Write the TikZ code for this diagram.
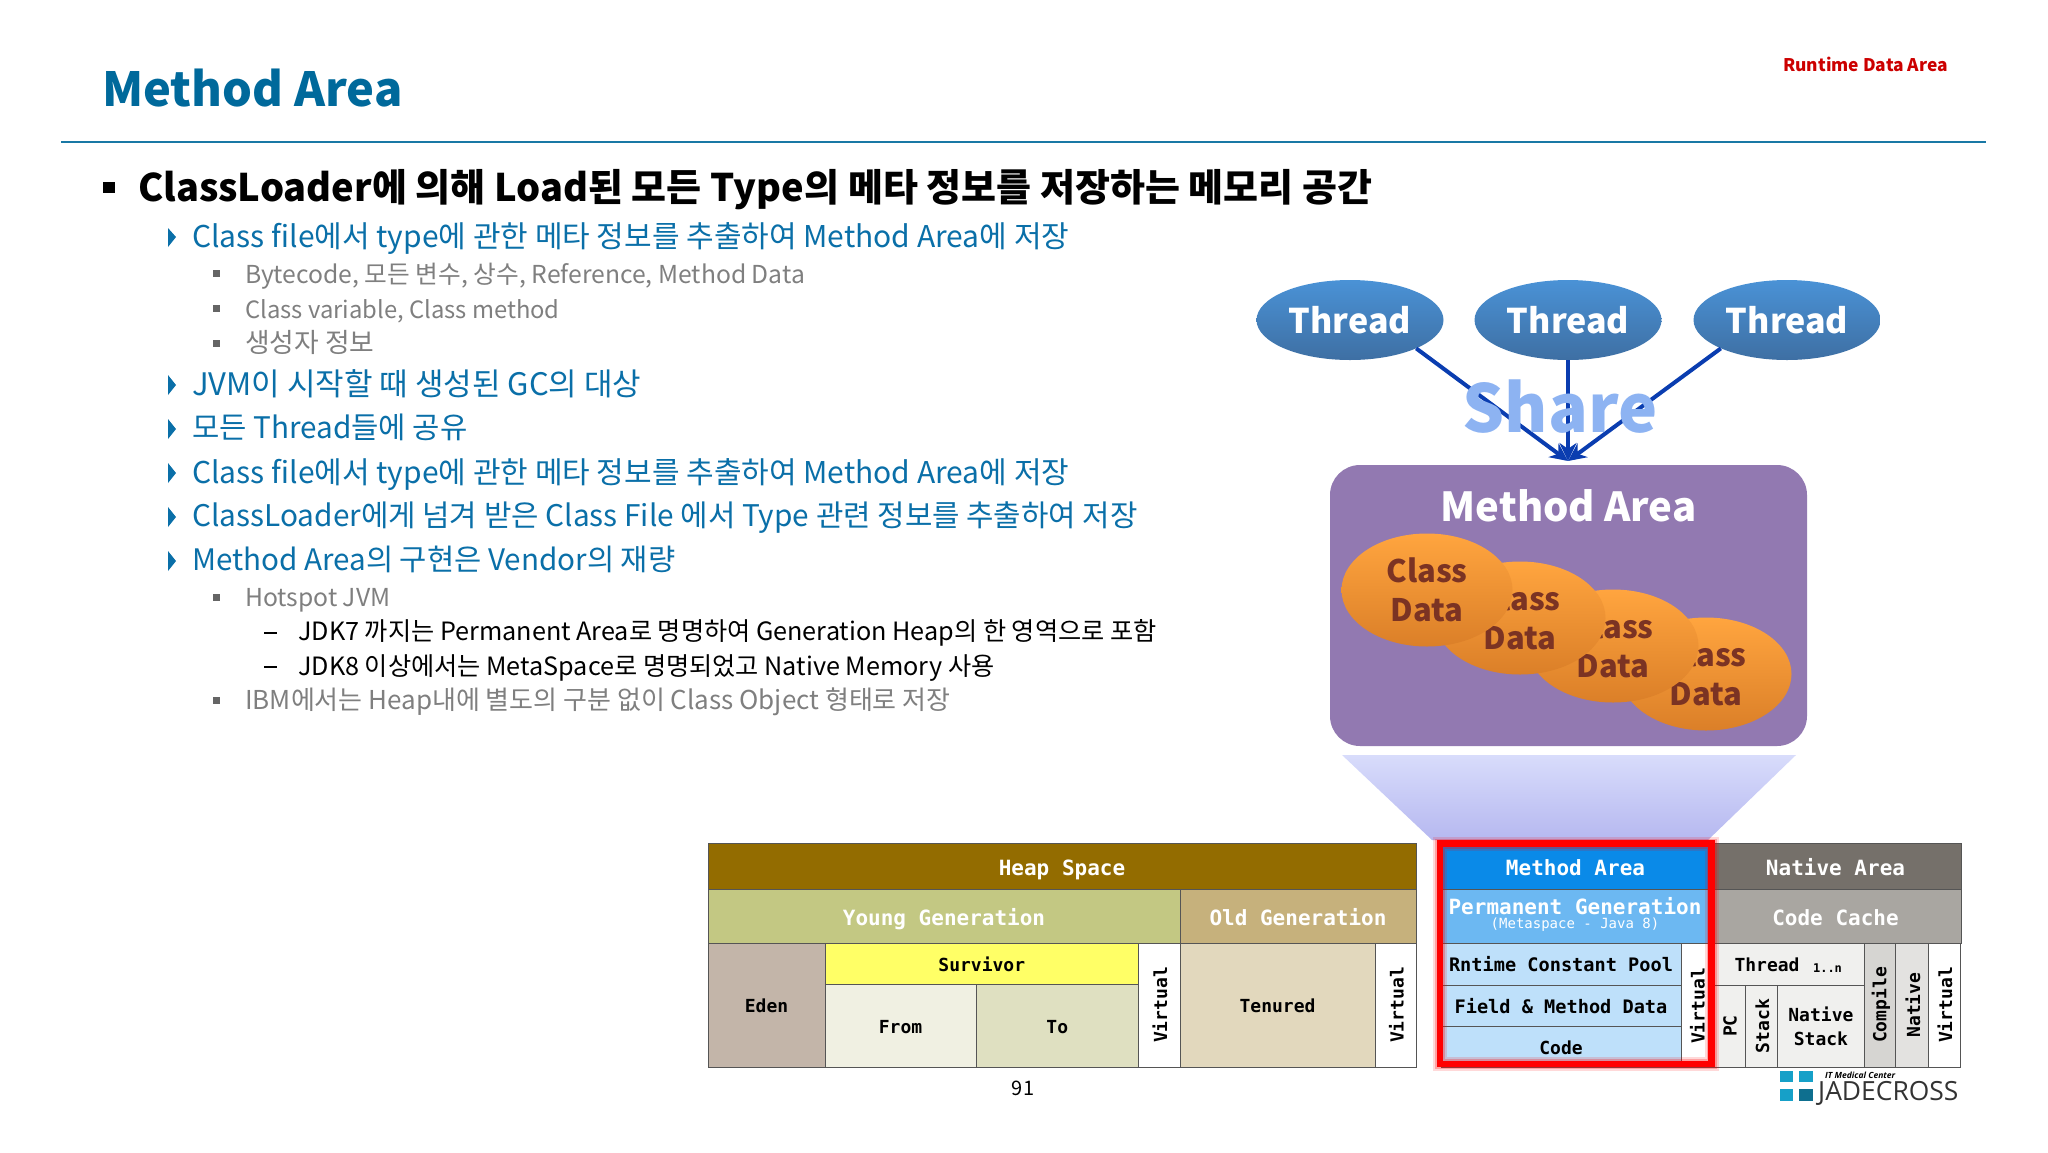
\documentclass[tikz,border=0pt]{standalone}
\usepackage{fontspec}
\usepackage{xcolor}
\usetikzlibrary{arrows.meta,shapes.geometric}
\setmainfont{Noto Sans CJK KR}
\setmonofont{DejaVu Sans Mono}
\newfontfamily\logofont{Open Sans}
\newcommand{\pxfont}[1]{\fontsize{#1}{#1}\selectfont}
\definecolor{titleblue}{HTML}{00699B}
\definecolor{linkblue}{HTML}{0A6FA8}
\definecolor{softgray}{HTML}{7F7F7F}
\definecolor{threadtop}{HTML}{4A92D6}
\definecolor{threadbottom}{HTML}{3E6FA3}
\definecolor{classtop}{HTML}{FFA53F}
\definecolor{classbottom}{HTML}{DB7F28}
\definecolor{classtext}{HTML}{7B3323}
\definecolor{sharecolor}{HTML}{0A3DB0}
\definecolor{sharetext}{HTML}{8DB3F2}
\definecolor{areapurple}{HTML}{9279B1}
\definecolor{funneltop}{HTML}{D8DCFB}
\definecolor{funnelbottom}{HTML}{B6B8F0}
\definecolor{cellline}{HTML}{555555}
\definecolor{heapbrown}{HTML}{936C00}
\definecolor{younggreen}{HTML}{C3C883}
\definecolor{oldtan}{HTML}{C6B17C}
\definecolor{edengray}{HTML}{C3B5A9}
\definecolor{survivoryellow}{HTML}{FFFF66}
\definecolor{fromcream}{HTML}{F0F0E2}
\definecolor{tosage}{HTML}{DFE0C1}
\definecolor{tenuredtan}{HTML}{E2D8BD}
\definecolor{methodblue}{HTML}{0A8AE8}
\definecolor{permblue}{HTML}{6CB8F2}
\definecolor{rowblue}{HTML}{BEE0FA}
\definecolor{nativegray}{HTML}{75706A}
\definecolor{cachegray}{HTML}{A9A6A1}
\definecolor{threadpale}{HTML}{F0F0EE}
\definecolor{compilegray}{HTML}{D6D5D2}
\definecolor{nativepale}{HTML}{E3E2E0}
\definecolor{logoteal}{HTML}{16A0C8}
\definecolor{logodark}{HTML}{0E6F8F}
\tikzset{
  textline/.style={anchor=base west,inner sep=0pt},
  mainline/.style={textline,font=\bfseries\pxfont{38},text=black},
  subline/.style={textline,font=\pxfont{30},text=linkblue},
  detailline/.style={textline,font=\pxfont{26},text=softgray},
  noteline/.style={textline,font=\pxfont{25.2},text=black},
  threadnode/.style={ellipse,inner sep=0pt,minimum width=187pt,minimum height=80pt,top color=threadtop,bottom color=threadbottom,text=white,font=\bfseries\pxfont{34}},
  classnode/.style={ellipse,inner sep=0pt,minimum width=171pt,minimum height=113pt,top color=classtop,bottom color=classbottom,text=classtext,font=\bfseries\fontsize{31}{39}\selectfont,align=center},
  sharearrow/.style={draw=sharecolor,line width=4pt,-{Stealth[length=18pt,width=17pt]}},
  boxcell/.style={rectangle,draw=cellline,line width=1pt,inner sep=0pt,text=black,font=\ttfamily\bfseries\pxfont{18}},
  cell/.style={boxcell,text height=15.5pt,text depth=0pt},
  headcell/.style={boxcell,text height=18pt,text depth=0pt,text=white,font=\ttfamily\bfseries\pxfont{21}},
  uplabel/.style={inner sep=0pt,rotate=90,text=black,font=\ttfamily\bfseries\pxfont{18}}
}
\begin{document}
\begin{tikzpicture}[x=1pt,y=-1pt]
\useasboundingbox (0,0) rectangle (2048,1152);
\node [textline,font=\bfseries\pxfont{47},text=titleblue] (title) at (102,106) {Method Area};
\node [textline,font=\bfseries\pxfont{17.4},text=red!80!black] (section) at (1783,71) {Runtime Data Area};
\draw [titleblue!90!white,line width=1.6pt] (61,142) -- (1986,142);
\fill [black] (103,182) rectangle (115,193);
\node [mainline] (intro) at (138,201) {ClassLoader에 의해 Load된 모든 Type의 메타 정보를 저장하는 메모리 공간};
\fill [linkblue] (168,228) -- (176,237) -- (168,247) -- cycle;
\node [subline] (sub1) at (192,247) {Class file에서 type에 관한 메타 정보를 추출하여 Method Area에 저장};
\fill [softgray!80!black] (213,270) rectangle (220,277);
\node [detailline,font=\pxfont{24.7}] (det1) at (245,283) {Bytecode, 모든 변수, 상수, Reference, Method Data};
\fill [softgray!80!black] (213,305) rectangle (220,312);
\node [detailline,font=\pxfont{23.8}] (det2) at (245,318) {Class variable, Class method};
\fill [softgray!80!black] (213,340) rectangle (220,347);
\node [detailline,font=\pxfont{26.8}] (det3) at (245,352) {생성자 정보};
\fill [linkblue] (168,375) -- (176,385) -- (168,395) -- cycle;
\node [subline,font=\pxfont{31}] (sub2) at (192,395) {JVM이 시작할 때 생성된 GC의 대상};
\fill [linkblue] (168,419) -- (176,429) -- (168,439) -- cycle;
\node [subline,font=\pxfont{29.7}] (sub3) at (192,438) {모든 Thread들에 공유};
\fill [linkblue] (168,463) -- (176,473) -- (168,483) -- cycle;
\node [subline] (sub4) at (192,483) {Class file에서 type에 관한 메타 정보를 추출하여 Method Area에 저장};
\fill [linkblue] (168,507) -- (176,517) -- (168,527) -- cycle;
\node [subline,font=\pxfont{29.8}] (sub5) at (192,526) {ClassLoader에게 넘겨 받은 Class File 에서 Type 관련 정보를 추출하여 저장};
\fill [linkblue] (168,551) -- (176,561) -- (168,571) -- cycle;
\node [subline,font=\pxfont{29.6}] (sub6) at (192,570) {Method Area의 구현은 Vendor의 재량};
\fill [softgray!80!black] (213,594) rectangle (220,601);
\node [detailline,font=\pxfont{24.7}] (det4) at (245,606) {Hotspot JVM};
\fill [black] (264,632) rectangle (277,634);
\node [noteline] (note1) at (298,640) {JDK7 까지는 Permanent Area로 명명하여 Generation Heap의 한 영역으로 포함};
\fill [black] (264,666) rectangle (277,668);
\node [noteline] (note2) at (298,675) {JDK8 이상에서는 MetaSpace로 명명되었고 Native Memory 사용};
\fill [softgray!80!black] (213,697) rectangle (220,704);
\node [detailline] (det5) at (245,709) {IBM에서는 Heap내에 별도의 구분 없이 Class Object 형태로 저장};
\node [threadnode] (thread1) at (1350,320) {Thread};
\node [threadnode] (thread2) at (1568,320) {Thread};
\node [threadnode] (thread3) at (1787,320) {Thread};
\coordinate (sharetip) at (1568,461);
\draw [sharearrow] (thread1.south east) -- (sharetip);
\draw [sharearrow] (thread2.south) -- (sharetip);
\draw [sharearrow] (thread3.south west) -- (sharetip);
\node [inner sep=0pt,anchor=base,text=sharetext,font=\bfseries\pxfont{66}] (share) at (1560,432) {Share};
\node [rectangle,rounded corners=30pt,inner sep=0pt,minimum width=477pt,minimum height=281pt,fill=areapurple] (marea) at (1568.5,605.5) {};
\node [inner sep=0pt,text=white,font=\bfseries\pxfont{40}] (marealabel) at (1568.5,506) {Method Area};
\node [classnode] (class4) at (1706,674) {Class\\Data};
\node [classnode] (class3) at (1613,646) {Class\\Data};
\node [classnode] (class2) at (1520,618) {Class\\Data};
\node [classnode] (class1) at (1427,590) {Class\\Data};
\shade [top color=funneltop,bottom color=funnelbottom] (1342,755) -- (1796,755) -- (1708,840) -- (1432,840) -- cycle;
\node [headcell,fill=heapbrown,minimum width=708pt,minimum height=46pt] (heap) at (1062,866) {Heap Space};
\node [headcell,fill=younggreen,minimum width=472pt,minimum height=54pt] (young) at (944,916) {Young Generation};
\node [headcell,fill=oldtan,minimum width=236pt,minimum height=54pt] (old) at (1298,916) {Old Generation};
\node [cell,fill=edengray,minimum width=117pt,minimum height=124pt] (eden) at (766.5,1005) {Eden};
\node [cell,fill=survivoryellow,minimum width=313.5pt,minimum height=41pt] (survivor) at (981.75,963.5) {Survivor};
\node [cell,fill=fromcream,minimum width=151pt,minimum height=83pt] (from) at (900.5,1025.5) {From};
\node [cell,fill=tosage,minimum width=162.5pt,minimum height=83pt] (to) at (1057.25,1025.5) {To};
\node [boxcell,fill=white,minimum width=41.5pt,minimum height=124pt] (virtual1) at (1159.25,1005) {};
\node [uplabel] (virtual1label) at (1160,1005) {Virtual};
\node [cell,fill=tenuredtan,minimum width=195pt,minimum height=124pt] (tenured) at (1277.5,1005) {Tenured};
\node [boxcell,fill=white,minimum width=41pt,minimum height=124pt] (virtual2) at (1395.5,1005) {};
\node [uplabel] (virtual2label) at (1396.5,1005) {Virtual};
\node [headcell,fill=methodblue,minimum width=269pt,minimum height=46pt] (method) at (1575.5,866) {Method Area};
\node [boxcell,fill=permblue,minimum width=269pt,minimum height=54pt] (perm) at (1575.5,916) {};
\node [inner sep=0pt,text=white,font=\ttfamily\bfseries\pxfont{21}] (permlabel) at (1575,906) {Permanent Generation};
\node [inner sep=0pt,text=white,font=\ttfamily\pxfont{14}] (metalabel) at (1575,925) {(Metaspace - Java 8)};
\node [cell,fill=rowblue,minimum width=240pt,minimum height=42pt,font=\ttfamily\bfseries\pxfont{18.6}] (rpool) at (1561,964) {Rntime Constant Pool};
\node [cell,fill=rowblue,minimum width=240pt,minimum height=41pt,font=\ttfamily\bfseries\pxfont{18.6}] (field) at (1561,1005.5) {Field \& Method Data};
\node [cell,fill=rowblue,minimum width=240pt,minimum height=41pt] (code) at (1561,1046.5) {Code};
\node [boxcell,fill=white,minimum width=29pt,minimum height=124pt] (virtual3) at (1695.5,1005) {};
\node [uplabel] (virtual3label) at (1697.5,1006) {Virtual};
\node [headcell,fill=nativegray,minimum width=251pt,minimum height=46pt] (native) at (1835.5,866) {Native Area};
\node [headcell,fill=cachegray,minimum width=251pt,minimum height=54pt] (cache) at (1835.5,916) {Code Cache};
\node [boxcell,fill=threadpale,minimum width=154pt,minimum height=42pt] (threadcell) at (1787,964) {};
\node [inner sep=0pt,text=black,font=\ttfamily\bfseries\pxfont{18}] (threadlabel) at (1767,965) {Thread};
\node [inner sep=0pt,text=black,font=\ttfamily\bfseries\pxfont{12}] (threadcount) at (1827.5,968) {1..n};
\node [boxcell,fill=threadpale,minimum width=35.6pt,minimum height=82pt] (pc) at (1727.8,1026) {};
\node [uplabel] (pclabel) at (1730,1026) {PC};
\node [boxcell,fill=threadpale,minimum width=32pt,minimum height=82pt] (stack) at (1761.6,1026) {};
\node [uplabel] (stacklabel) at (1762.4,1026) {Stack};
\node [boxcell,fill=threadpale,align=center,minimum width=86.3pt,minimum height=82pt,font=\ttfamily\bfseries\fontsize{18}{24}\selectfont] (nstack) at (1820.9,1026) {Native\\Stack};
\node [boxcell,fill=compilegray,minimum width=32pt,minimum height=124pt] (compile) at (1880,1005) {};
\node [uplabel] (compilelabel) at (1881,1005) {Compile};
\node [boxcell,fill=nativepale,minimum width=32.5pt,minimum height=124pt] (nativecell) at (1912.2,1005) {};
\node [uplabel] (nativelabel) at (1913,1005) {Native};
\node [boxcell,fill=white,minimum width=32.5pt,minimum height=124pt] (virtual4) at (1944.7,1005) {};
\node [uplabel] (virtual4label) at (1945,1005) {Virtual};
\draw [red,opacity=0.15,line width=14pt] (1440,843.5) rectangle (1711.5,1064);
\draw [red,opacity=0.25,line width=10pt] (1440,843.5) rectangle (1711.5,1064);
\draw [red,line width=6.5pt] (1440,843.5) rectangle (1711.5,1064);
\node [inner sep=0pt,text=black,font=\pxfont{20}] (page) at (1023,1088) {91};
\fill [logoteal] (1780,1071) rectangle (1793,1082);
\fill [logoteal] (1799,1071) rectangle (1812.5,1082);
\fill [logoteal] (1780,1089) rectangle (1793,1101);
\fill [logodark] (1799,1089) rectangle (1812.5,1101);
\node [textline,text=black,font=\logofont\bfseries\itshape\pxfont{8.5}] (logotop) at (1825,1078) {IT Medical Center};
\node [textline,text=black!80,font=\logofont\pxfont{26.4}] (logoname) at (1818,1100) {JADECROSS};
\end{tikzpicture}
\end{document}
